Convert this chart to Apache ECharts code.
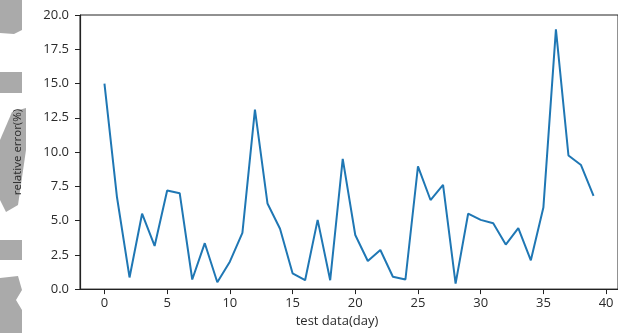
<!DOCTYPE html>
<html>
<head>
<meta charset="utf-8">
<script src="https://cdn.jsdelivr.net/npm/echarts@6/dist/echarts.min.js"></script>
<style>html,body{margin:0;padding:0;background:#fff}#c{width:618px;height:333px}</style>
</head>
<body>
<div id="c"></div>
<script>
const days = [0,1,2,3,4,5,6,7,8,9,10,11,12,13,14,15,16,17,18,19,20,21,22,23,24,25,26,27,28,29,30,31,32,33,34,35,36,37,38,39];
const relErr = [15.0,6.7,0.85,5.5,3.15,7.2,7.0,0.7,3.35,0.5,2.0,4.1,13.1,6.25,4.4,1.15,0.65,5.05,0.65,9.5,3.95,2.05,2.85,0.9,0.7,8.95,6.5,7.6,0.4,5.5,5.05,4.8,3.25,4.45,2.1,5.95,18.95,9.75,9.05,6.8];
const xTicks = [0,5,10,15,20,25,30,35,40];
const yTicks = [0,2.5,5,7.5,10,12.5,15,17.5,20];

const chart = echarts.init(document.getElementById('c'), null, {renderer:'canvas'});
const font = "'Open Sans', 'Noto Sans', sans-serif";
const axisCol = '#222';
const txtCol = '#2a2a2a';
chart.setOption({
  animation:false,
  grid:{left:80, right:-27, top:15, bottom:43.5, show:true, borderColor:axisCol, borderWidth:1, backgroundColor:'transparent'},
  xAxis:{
    type:'value', min:-1.95, max:40.95,
    axisLine:{show:true, onZero:false, lineStyle:{color:axisCol, width:1.2}},
    axisTick:{show:true, length:5, customValues:xTicks, lineStyle:{color:axisCol}},
    axisLabel:{customValues:xTicks, color:txtCol, fontFamily:font, fontSize:13, margin:8},
    splitLine:{show:false},
    name:'test data(day)', nameLocation:'middle', nameGap:25,
    nameTextStyle:{color:txtCol, fontFamily:font, fontSize:13, padding:[0,24,0,0]}
  },
  yAxis:{
    type:'value', min:0, max:20, interval:2.5,
    axisLine:{show:true, onZero:false, lineStyle:{color:axisCol, width:1.2}},
    axisTick:{show:true, length:5, lineStyle:{color:axisCol}},
    axisLabel:{color:txtCol, fontFamily:font, fontSize:13, margin:11, formatter:v=>v.toFixed(1)},
    splitLine:{show:false},
    name:'relative error(%)', nameLocation:'middle', nameGap:56,
    nameTextStyle:{color:txtCol, fontFamily:font, fontSize:11.5}
  },
  series:[{
    type:'line', data:days.map((d,i)=>[d, relErr[i]]),
    showSymbol:false, symbol:'none',
    lineStyle:{color:'#1f77b4', width:2}
  }],
  graphic:[
    {type:'polygon', z:-1, shape:{points:[[0,0],[22,0],[22,30],[14,34],[0,33]]}, style:{fill:'#aaaaaa'}},
    {type:'rect', z:-1, shape:{x:0,y:72,width:22,height:21}, style:{fill:'#aaaaaa'}},
    {type:'polygon', z:-1, shape:{points:[[12,112],[26,108],[26,150],[18,205],[6,212],[0,200],[0,140]]}, style:{fill:'#aaaaaa'}},
    {type:'rect', z:-1, shape:{x:0,y:240,width:22,height:20}, style:{fill:'#aaaaaa'}},
    {type:'polygon', z:-1, shape:{points:[[0,278],[18,276],[22,290],[16,300],[22,310],[22,333],[0,333]]}, style:{fill:'#aaaaaa'}}
  ]
});
</script>
</body>
</html>
